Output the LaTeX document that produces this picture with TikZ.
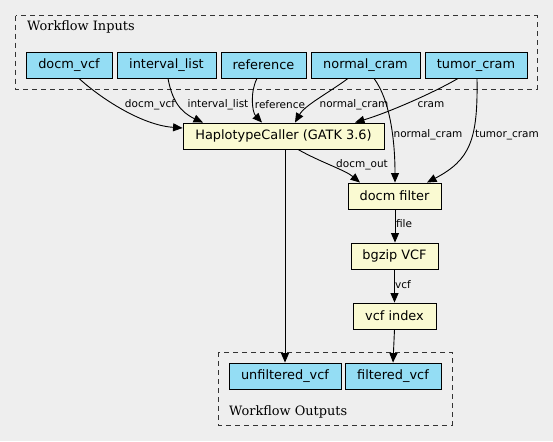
\documentclass[tikz,border=0pt]{standalone}
\usepackage{fontspec}
\setmainfont{DejaVu Serif}
\newfontfamily\nodefont{DejaVu Sans}
\usetikzlibrary{arrows.meta,calc}
\definecolor{bgc}{HTML}{EEEEEE}
\definecolor{iofill}{HTML}{94DDF4}
\definecolor{stepfill}{HTML}{FAFAD2}
\definecolor{clus}{HTML}{333333}
\tikzset{
  box/.style={draw=black, line width=0.9pt, inner sep=0pt, minimum height=26pt,
    font=\nodefont\fontsize{12.9}{15}\selectfont},
  iobox/.style={box, fill=iofill},
  stepbox/.style={box, fill=stepfill},
  cluster/.style={draw=clus, line width=0.9pt, dash pattern=on 5pt off 4pt},
  clabel/.style={inner sep=0pt, anchor=west, font=\fontsize{12.9}{15}\selectfont},
  edge/.style={draw=black, line width=0.9pt, -{Triangle[length=9.5pt,width=8pt]}},
  elabel/.style={inner sep=0pt, font=\nodefont\fontsize{10.5}{12}\selectfont},
}
\begin{document}
\begin{tikzpicture}[x=1pt,y=-1pt]
\useasboundingbox[fill=bgc] (0,0) rectangle (553,441);
% clusters
\draw[cluster] (15.7,15.7) rectangle (537,89);
\node[clabel] (inlab) at (27,27) {Workflow Inputs};
\draw[cluster] (218,352) rectangle (452,425);
\node[clabel] (outlab) at (229,412) {Workflow Outputs};
% inputs
\node[iobox, minimum width=86pt] (docmvcf) at (69,65) {docm\_vcf};
\node[iobox, minimum width=99pt] (interval) at (166.5,65) {interval\_list};
\node[iobox, minimum width=85pt] (reference) at (263.5,65) {reference};
\node[iobox, minimum width=109pt] (normal) at (365.5,65) {normal\_cram};
\node[iobox, minimum width=102pt] (tumor) at (476,65) {tumor\_cram};
% steps
\node[stepbox, minimum width=201pt] (hc) at (283.5,136) {HaplotypeCaller (GATK 3.6)};
\node[stepbox, minimum width=93pt] (filter) at (394.5,196) {docm filter};
\node[stepbox, minimum width=87pt] (bgzip) at (394.5,256) {bgzip VCF};
\node[stepbox, minimum width=83pt] (index) at (394.5,316) {vcf index};
% outputs
\node[iobox, minimum width=112pt] (unfilt) at (285,376) {unfiltered\_vcf};
\node[iobox, minimum width=96pt] (filt) at (393,376) {filtered\_vcf};
% edges
\draw[edge] ($(docmvcf.south)+(10,0)$) .. controls (98,96) and (140,125) .. ($(hc.west)+(0,-8)$)
  node[elabel] at (150,105) {docm\_vcf};
\draw[edge] ($(interval.south)+(1.5,0)$) .. controls (172,100) and (180,112) .. ($(hc.north)+(-80.5,0)$)
  node[elabel] at (218,105) {interval\_list};
\draw[edge] ($(reference.south)+(-6.5,0)$) .. controls (250,92) and (252,112) .. ($(hc.north)+(-21.5,0)$)
  node[elabel] at (280,105) {reference};
\draw[edge] ($(normal.south)+(-17.5,0)$) .. controls (330,92) and (305,105) .. ($(hc.north)+(11.5,0)$)
  node[elabel] at (354,105) {normal\_cram};
\draw[edge] ($(tumor.south)+(-18,0)$) .. controls (435,92) and (390,112) .. ($(hc.north)+(71.5,0)$)
  node[elabel] at (431,105) {cram};
\draw[edge] ($(normal.south)+(8.5,0)$) .. controls (390,100) and (395,140) .. ($(filter.north)+(0.5,0)$)
  node[elabel] at (428,135) {normal\_cram};
\draw[edge] ($(tumor.south)+(1,0)$) .. controls (478,140) and (470,160) .. ($(filter.north)+(32.5,0)$)
  node[elabel] at (507,135) {tumor\_cram};
\draw[edge] ($(hc.south)+(14.5,0)$) .. controls (320,162) and (345,170) .. ($(filter.north)+(-34.5,0)$)
  node[elabel] at (362,165) {docm\_out};
\draw[edge] ($(hc.south)+(1.5,0)$) -- (unfilt.north);
\draw[edge] ($(filter.south)+(0.5,0)$) -- ($(bgzip.north)+(0.5,0)$)
  node[elabel] at (404,224) {file};
\draw[edge] (bgzip.south) -- (index.north)
  node[elabel] at (403,285) {vcf};
\draw[edge] (index.south) -- (filt.north);
\end{tikzpicture}
\end{document}
